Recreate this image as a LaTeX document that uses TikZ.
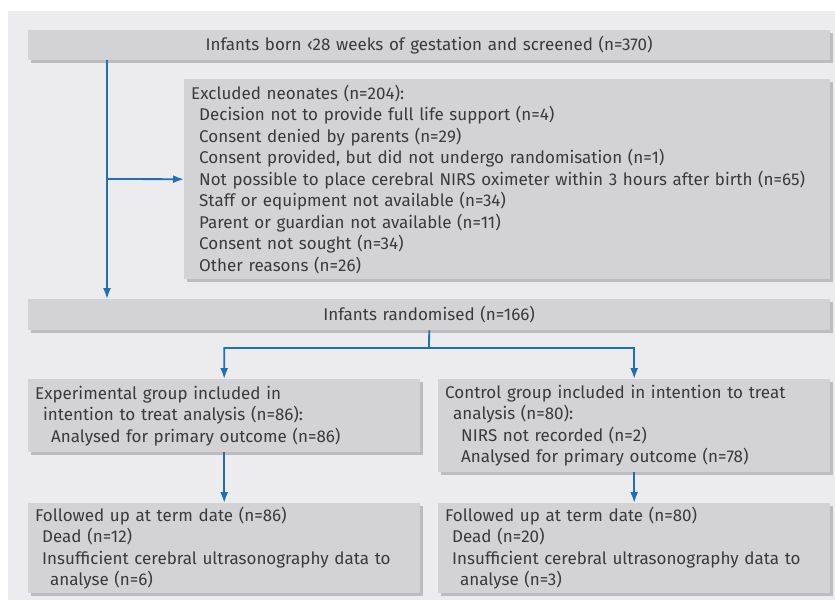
\documentclass[tikz,border=0pt]{standalone}
\usepackage{fontspec}
\setmainfont{Fira Sans}
\usetikzlibrary{shadows}
\usetikzlibrary{arrows.meta}
\definecolor{panelgray}{HTML}{ECECEE}
\definecolor{boxgray}{HTML}{D3D3D5}
\definecolor{shadowgray}{HTML}{BDBDBF}
\definecolor{flowblue}{HTML}{1F6EB8}
\definecolor{txtgray}{HTML}{3A3A3A}

\begin{document}
\begin{tikzpicture}[x=1pt, y=-1pt,
		stage/.style={fill=boxgray, anchor=north west, inner xsep=7pt, inner ysep=0pt, align=left, text=txtgray,
			font=\fontsize{17}{21.5}\selectfont,
			drop shadow={shadow xshift=3pt, shadow yshift=-3pt, fill=shadowgray, opacity=1}},
		flow/.style={draw=flowblue, line width=1.8pt, -{Latex[length=11pt, width=8pt]}}]
		\useasboundingbox (0,0) rectangle (835,606);
		\fill[panelgray] (8,11) rectangle (835,600);
		
		% boxes
		\node[stage, align=center, text width=788pt, minimum height=30pt] (screened) at (28,30)
			{Infants born ‹28 weeks of gestation and screened (n=370)};
		\node[stage, text width=632pt, minimum height=200pt] (excluded) at (184,79)
			{Excluded neonates (n=204):\\
			\hspace*{8pt}Decision not to provide full life support (n=4)\\
			\hspace*{8pt}Consent denied by parents (n=29)\\
			\hspace*{8pt}Consent provided, but did not undergo randomisation (n=1)\\
			\hspace*{8pt}Not possible to place cerebral NIRS oximeter within 3 hours after birth (n=65)\\
			\hspace*{8pt}Staff or equipment not available (n=34)\\
			\hspace*{8pt}Parent or guardian not available (n=11)\\
			\hspace*{8pt}Consent not sought (n=34)\\
			\hspace*{8pt}Other reasons (n=26)};
		\node[stage, align=center, text width=788pt, minimum height=31pt] (randomised) at (28,299)
			{Infants randomised (n=166)};
		\node[stage, text width=378pt, minimum height=73pt] (experimental) at (28,379)
			{Experimental group included in\\
			\hspace*{8pt}intention to treat analysis (n=86):\\
			\hspace*{16pt}Analysed for primary outcome (n=86)};
		\node[stage, text width=378pt, minimum height=93pt] (control) at (438,379)
			{Control group included in intention to treat\\
			\hspace*{8pt}analysis (n=80):\\
			\hspace*{16pt}NIRS not recorded (n=2)\\
			\hspace*{16pt}Analysed for primary outcome (n=78)};
		\node[stage, text width=378pt, minimum height=90pt] (followexp) at (28,503)
			{Followed up at term date (n=86)\\
			\hspace*{7pt}Dead (n=12)\\
			\hspace*{7pt}Insufficient cerebral ultrasonography data to\\
			\hspace*{15pt}analyse (n=6)};
		\node[stage, text width=378pt, minimum height=90pt] (followctl) at (438,503)
			{Followed up at term date (n=80)\\
			\hspace*{7pt}Dead (n=20)\\
			\hspace*{7pt}Insufficient cerebral ultrasonography data to\\
			\hspace*{15pt}analyse (n=3)};
		
		% connectors
		\coordinate (split) at (107,179);
		\coordinate (fork) at (429,348);
		\draw[flow] (screened.south -| split) -- (randomised.north -| split);
		\draw[flow] (split) -- (excluded.west);
		\draw[flow] (randomised.south) -- (fork) -| (experimental.north);
		\draw[flow] (fork) -| (control.north);
		\draw[flow] (experimental.south) -- (followexp.north);
		\draw[flow] (control.south) -- (followctl.north);
	\end{tikzpicture}
\end{document}
